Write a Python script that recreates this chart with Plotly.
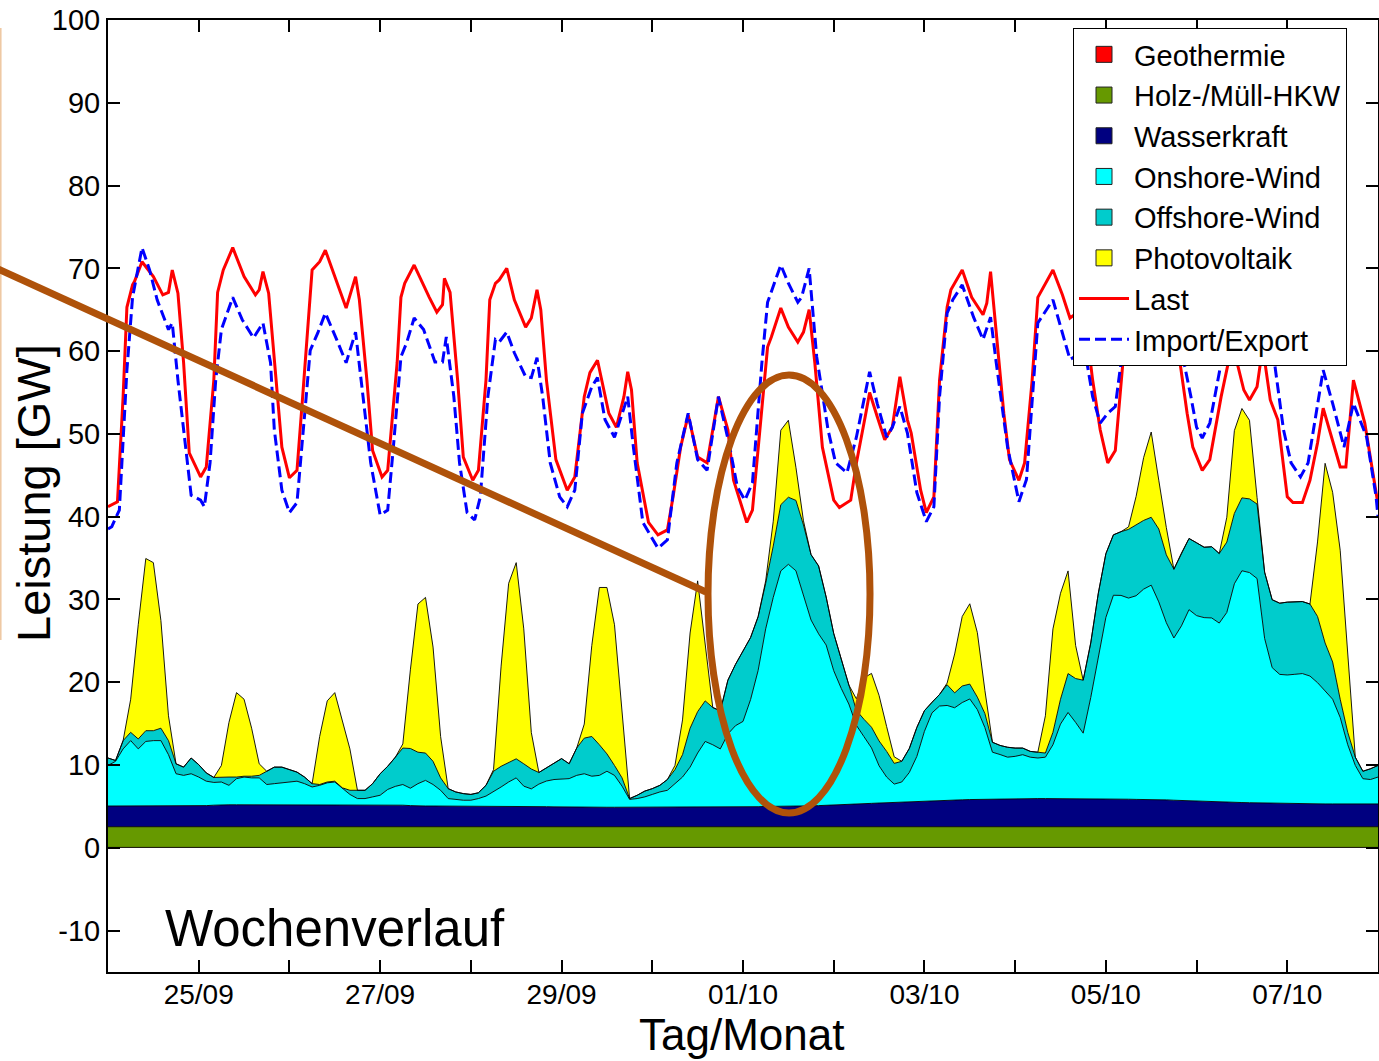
import pandas as pd
import plotly.graph_objects as go

# ---------------- data ----------------
start = pd.Timestamp("2012-09-24 00:00")
n_days = 14

# stacked generation, 2-hourly samples (GW), 24/09 00:00 ... 08/10 00:00
geothermie = [0.05] * 12 * n_days + [0.05]
holz_muell = [2.5] * 12 * n_days + [2.5]

wasserkraft = [
    2.5, 2.5, 2.5, 2.5, 2.5, 2.5, 2.5, 2.5, 2.5, 2.5, 2.5, 2.5,
    2.5, 2.55, 2.6, 2.65, 2.65, 2.65, 2.65, 2.65, 2.65, 2.65, 2.65, 2.65,
    2.65, 2.65, 2.65, 2.65, 2.65, 2.65, 2.65, 2.65, 2.65, 2.65, 2.65, 2.65,
    2.65, 2.65, 2.62, 2.6, 2.55, 2.5, 2.5, 2.5, 2.5, 2.5, 2.5, 2.5,
    2.5, 2.5, 2.5, 2.5, 2.5, 2.5, 2.5, 2.5, 2.47, 2.45, 2.42, 2.4,
    2.38, 2.36, 2.35, 2.35, 2.35, 2.35, 2.35, 2.35, 2.35, 2.35, 2.35, 2.35,
    2.35, 2.35, 2.35, 2.35, 2.35, 2.35, 2.35, 2.35, 2.35, 2.35, 2.35, 2.35,
    2.37, 2.4, 2.42, 2.45, 2.45, 2.45, 2.45, 2.47, 2.5, 2.52, 2.55, 2.6,
    2.65, 2.7, 2.72, 2.75, 2.78, 2.82, 2.86, 2.9, 2.95, 3.0, 3.05, 3.1,
    3.12, 3.15, 3.18, 3.2, 3.22, 3.25, 3.28, 3.3, 3.32, 3.35, 3.37, 3.4,
    3.4, 3.4, 3.4, 3.4, 3.4, 3.4, 3.4, 3.4, 3.4, 3.4, 3.4, 3.4,
    3.38, 3.36, 3.34, 3.32, 3.3, 3.3, 3.28, 3.26, 3.24, 3.2, 3.16, 3.12,
    3.1, 3.06, 3.02, 3.0, 2.98, 2.95, 2.92, 2.9, 2.88, 2.85, 2.82, 2.8,
    2.78, 2.76, 2.75, 2.75, 2.75, 2.75, 2.75, 2.75, 2.75, 2.75, 2.75, 2.75,
    2.75,
]

onshore_wind = [
    4.9, 5.4, 6.9, 7.9, 6.9, 7.8, 7.9, 7.9, 6.2, 3.9, 3.7, 3.9,
    3.5, 2.95, 2.75, 2.75, 2.35, 3.15, 3.35, 3.25, 3.25, 2.45, 2.55, 2.65,
    2.75, 2.85, 2.55, 2.15, 2.35, 2.65, 2.75, 1.95, 1.25, 0.75, 0.75, 0.95,
    1.15, 1.85, 2.25, 2.5, 2.1, 2.7, 3.1, 2.6, 1.9, 0.9, 0.8, 0.7,
    0.7, 0.9, 1.2, 1.7, 2.3, 2.9, 3.4, 2.4, 2.1, 2.7, 3.1, 3.3,
    3.35, 3.45, 3.85, 4.05, 3.75, 3.85, 4.35, 3.85, 2.55, 0.95, 1.05, 1.25,
    1.55, 1.85, 2.05, 2.85, 3.65, 4.85, 6.55, 7.95, 7.55, 7.05, 8.85, 9.85,
    10.35, 12.95, 16.45, 21.45, 25.25, 28.45, 29.25, 28.45, 25.45, 22.45, 20.75, 19.35,
    16.2, 14.0, 12.1, 9.5, 8.1, 6.7, 4.5, 3.1, 2.2, 2.4, 3.5, 5.4,
    8.4, 10.6, 11.4, 11.45, 11.15, 11.75, 12.15, 10.85, 8.65, 5.65, 5.35, 5.0,
    5.1, 5.3, 5.0, 4.9, 5.0, 6.5, 9.0, 10.4, 9.2, 7.9, 12.2, 17.2,
    21.9, 24.6, 24.6, 24.3, 24.6, 25.4, 25.9, 23.9, 21.4, 19.6, 21.1, 23.1,
    22.4, 22.2, 22.2, 21.6, 22.9, 26.4, 28.0, 27.8, 27.1, 19.9, 16.4, 15.6,
    15.55, 15.65, 15.75, 15.45, 14.65, 13.65, 12.65, 10.45, 7.15, 4.65, 3.05, 2.95,
    3.25,
]

offshore_wind = [
    0.9, 0.1, 1.0, 1.0, 1.2, 1.3, 1.2, 1.5, 1.7, 1.2, 1.0, 1.9,
    1.5, 1.0, 0.6, 0.6, 1.0, 0.2, 0.1, 0.2, 0.3, 1.6, 2.0, 1.9,
    1.5, 1.1, 0.8, 0.4, 0.1, 0.1, 0.1, 0.1, 0.5, 1.0, 1.0, 1.6,
    2.6, 2.8, 3.5, 4.4, 4.8, 3.8, 3.3, 2.8, 1.5, 1.2, 0.9, 0.8,
    0.7, 0.7, 1.3, 2.5, 2.5, 2.4, 2.3, 2.7, 2.4, 1.4, 1.6, 2.0,
    2.5, 1.8, 3.3, 4.3, 4.8, 3.7, 2.1, 1.2, 1.0, 0.1, 0.4, 0.7,
    0.7, 0.8, 1.3, 1.7, 2.7, 4.7, 5.0, 4.9, 4.5, 4.6, 6.5, 7.4,
    8.6, 7.5, 6.5, 5.5, 6.2, 8.0, 8.1, 8.5, 8.5, 7.9, 8.2, 5.8,
    4.5, 3.5, 2.3, 1.8, 2.1, 2.5, 3.0, 3.1, 2.5, 2.5, 2.9, 3.5,
    2.5, 1.3, 1.4, 2.5, 1.8, 2.0, 1.8, 1.5, 1.7, 1.2, 1.1, 1.2,
    1.0, 0.8, 0.7, 0.7, 0.5, 1.5, 3.0, 4.7, 5.3, 6.4, 6.6, 7.6,
    7.7, 7.3, 7.7, 8.3, 8.6, 8.3, 8.2, 8.8, 8.2, 8.3, 8.8, 8.6,
    8.8, 8.5, 8.6, 8.4, 8.5, 8.5, 8.8, 8.9, 9.0, 8.0, 8.2, 8.6,
    8.8, 8.8, 8.7, 8.7, 8.0, 5.8, 4.5, 2.2, 1.5, 1.0, 0.9, 1.3,
    1.4,
]

photovoltaik = [
    0, 0, 0, 4.0, 13.8, 20.8, 20.3, 13.0, 3.0, 0, 0, 0,
    0, 0, 0, 1.4, 6.6, 10.2, 9.3, 5.8, 1.4, 0, 0, 0,
    0, 0, 0, 0, 5.8, 9.8, 10.7, 8.2, 5.0, 0, 0, 0,
    0, 0, 0, 0.5, 9.5, 17.9, 18.8, 13.8, 5.0, 0, 0, 0,
    0, 0, 0, 0.2, 12.1, 21.6, 23.7, 16.3, 4.4, 0, 0, 0,
    0, 0, 0, 1.7, 11.0, 19.0, 20.1, 17.0, 8.0, 0, 0, 0,
    0, 0, 0, 0.5, 4.2, 11.5, 15.8, 7.2, 0, 0, 0, 0,
    0, 0, 0, 0.3, 3.0, 9.0, 9.3, 4.0, 0.5, 0, 0, 0,
    0, 0, 0, 1.4, 5.0, 6.5, 5.5, 3.0, 0.8, 0, 0, 0,
    0, 0, 0, 0.2, 4.7, 8.4, 9.7, 7.8, 2.8, 0, 0, 0,
    0, 0, 0, 0, 4.5, 12.5, 12.8, 12.4, 4.0, 0, 0, 0,
    0, 0, 0, 0.3, 3.4, 7.6, 10.3, 5.9, 3.3, 0, 0, 0,
    0, 0, 0, 0, 3.0, 10.0, 10.8, 9.5, 0.8, 0, 0, 0,
    0, 0, 0, 0, 9.0, 21.7, 20.5, 18.0, 10.0, 0, 0, 0,
    0,
]

# load and import/export (hours since 24/09 00:00, GW)
last_hours = [0, 2.5, 4, 5, 6.5, 7, 9, 12, 14.5, 16, 17, 18.5, 20, 21.5, 24.5, 26, 28, 29, 30.5, 33,
              36, 39, 40, 41, 42.5, 44.5, 46, 48, 50, 51.5, 53.5, 54, 56, 57.5, 61.5, 63, 65.5, 66.5,
              68.5, 70, 72.5, 74, 76.5, 77.5, 78.5, 81, 85, 87, 88.5, 89, 90.5, 92.5, 94, 96.5, 98,
              100, 101, 102.5, 103.5, 105.5, 107.5, 110.5, 112, 113.5, 114.5, 116, 118.5, 121.5, 123.5,
              126, 127.5, 129.5, 132.5, 134.5, 136.5, 137.5, 138.5, 140, 143, 145.5, 148, 149.5, 151.5,
              153.5, 156, 158.5, 161.5, 164, 165.5, 169, 170.5, 172.5, 174.5, 175.5, 178, 180, 182.5,
              184, 185.5, 187, 189, 192, 193.5, 196.5, 198, 200.5, 201.5, 203.5, 205.5, 207.5, 209.5,
              211.5, 212.5, 215, 216.5, 218.5, 220, 222, 223, 226, 228.5, 231.5, 232.5, 233.5, 235,
              237, 238.5, 241, 242.5, 244.5, 246, 250, 252.5, 254.5, 256, 257, 258.5, 260.5, 262.5,
              264.5, 266.5, 268.5, 269.5, 271, 273.5, 277, 279.5, 281, 282.5, 283.5, 285.5, 287, 289.5,
              291.5, 294.5, 296.5, 297.5, 298.5, 300.5, 302, 304, 305.5, 307.5, 309.5, 312, 313.5, 316,
              318, 320, 321.5, 324, 326, 327.5, 329.5, 332.5, 335.5, 336]
last_values = [41.2, 41.8, 54.5, 65.3, 68.0, 68.4, 70.8, 69.0, 66.8, 67.1, 69.8, 67.0, 58.6, 47.7, 44.8,
               46.0, 56.5, 67.1, 69.8, 72.5, 69.0, 66.8, 67.4, 69.6, 67.0, 56.5, 48.4, 44.7, 45.6, 54.5,
               67.6, 69.8, 70.8, 72.2, 67.1, 65.2, 69.0, 66.2, 56.5, 48.0, 44.8, 45.6, 58.6, 66.5, 68.2,
               70.4, 66.5, 64.7, 65.6, 68.8, 67.1, 56.5, 47.2, 44.4, 45.6, 56.5, 66.2, 68.2, 68.6, 70.0,
               66.2, 62.9, 64.0, 67.4, 65.0, 56.5, 46.9, 43.2, 44.8, 54.5, 57.4, 58.9, 52.5, 50.8, 54.5,
               57.5, 55.3, 46.5, 39.3, 37.8, 38.4, 42.4, 48.4, 52.3, 47.2, 46.5, 54.5, 50.5, 44.4, 39.3,
               40.8, 50.5, 60.5, 61.7, 65.2, 62.9, 61.1, 62.3, 65.0, 58.6, 48.4, 42.0, 41.1, 42.0, 46.5,
               52.5, 55.0, 52.1, 49.3, 50.8, 56.9, 51.7, 50.1, 43.2, 40.5, 42.4, 56.5, 65.3, 67.4, 69.8,
               66.5, 64.4, 65.8, 69.6, 62.6, 52.5, 46.9, 44.4, 46.5, 56.5, 66.5, 69.8, 66.8, 64.0, 64.5,
               68.0, 64.0, 56.5, 50.5, 46.5, 48.0, 58.6, 65.0, 68.0, 70.0, 67.0, 66.0, 69.0, 65.0, 59.0,
               52.5, 48.4, 45.6, 46.9, 54.5, 59.0, 61.0, 59.0, 55.3, 54.1, 55.7, 60.5, 54.1, 51.7, 42.4,
               41.7, 41.7, 44.4, 48.9, 53.1, 49.3, 46.0, 46.0, 56.5, 51.3, 42.4, 41.5]

import_hours = [0, 1, 3, 5, 6.5, 9, 11, 13, 16, 17, 18.5, 20.5, 22, 24.5, 25.5, 27, 28.5, 30, 33, 35.5,
                38.5, 41, 43, 44, 46, 48, 50, 51.5, 53.5, 55.5, 57.5, 60.5, 63, 65.5, 67.5, 69.5, 72, 74,
                75.5, 77.5, 79, 81, 83.5, 86.5, 88.5, 89.5, 91.5, 93, 95, 97, 98.5, 100.5, 102.5, 103.5,
                105.5, 107.5, 110.5, 112, 113.5, 115, 117, 119.5, 121.5, 123.5, 125.5, 128, 129.5, 131.5,
                134, 137.5, 139, 141.5, 145.5, 148, 150.5, 153.5, 156, 158.5, 161.5, 164.5, 166.5, 168.5,
                170.5, 173, 174.5, 178, 180, 182.5, 183.5, 185.5, 187.5, 190.5, 192.5, 195.5, 198, 200.5,
                201.5, 203.5, 206, 207.5, 209.5, 211.5, 214, 216.5, 218.5, 220, 222, 223.5, 226, 229,
                231.5, 233.5, 235, 238, 241, 243, 245, 246, 250, 252.5, 254.5, 256.5, 259, 260.5, 262.5,
                264.5, 266.5, 268, 270, 273, 277, 281, 283, 284.5, 286.5, 288, 289.5, 291.5, 294.5, 296.5,
                299.5, 303.5, 305.5, 307, 308.5, 311, 313, 315.5, 317.5, 320, 321.5, 324, 327, 329.5, 333,
                335.5, 336]
import_values = [38.5, 38.8, 40.8, 57.7, 66.5, 72.5, 69.8, 66.2, 62.6, 63.4, 56.5, 48.4, 42.6, 42.0, 41.2,
                 46.5, 56.5, 62.6, 66.5, 63.8, 61.6, 63.4, 58.6, 50.5, 43.2, 40.5, 41.7, 49.6, 60.1, 62.2,
                 64.6, 61.4, 58.6, 62.3, 54.5, 46.5, 40.2, 40.8, 48.4, 59.3, 61.0, 64.0, 62.6, 58.7, 58.7,
                 61.7, 54.5, 46.5, 40.5, 39.6, 42.4, 54.5, 61.4, 61.1, 62.3, 59.8, 56.9, 56.8, 59.2, 54.5,
                 46.5, 42.4, 41.2, 43.2, 52.5, 55.7, 56.8, 51.7, 49.6, 54.5, 48.4, 39.3, 36.2, 37.2, 46.5,
                 52.5, 46.9, 45.6, 54.5, 48.4, 43.6, 42.0, 44.1, 58.6, 65.9, 70.4, 68.2, 65.9, 66.5, 70.0,
                 59.3, 50.5, 46.5, 45.3, 49.6, 55.3, 57.5, 53.7, 49.6, 50.8, 53.3, 50.1, 42.9, 39.4, 41.2,
                 54.5, 64.6, 66.2, 68.0, 64.1, 61.4, 64.1, 58.6, 48.4, 41.8, 44.5, 56.5, 63.4, 66.2, 62.2,
                 59.0, 59.5, 58.6, 54.5, 51.3, 52.5, 53.3, 58.6, 62.0, 64.0, 63.0, 64.0, 61.0, 59.0, 54.5,
                 50.8, 49.5, 51.3, 58.6, 63.0, 65.0, 63.0, 64.0, 61.0, 59.0, 50.5, 46.5, 44.8, 46.5, 53.7,
                 57.7, 53.7, 48.4, 53.7, 49.6, 42.4, 40.0]

tick_labels = ["", "25/09", "", "27/09", "", "29/09", "", "01/10", "", "03/10", "", "05/10", "", "07/10", ""]
y_ticks = [-10, 0, 10, 20, 30, 40, 50, 60, 70, 80, 90, 100]

# ---------------- figure ----------------
grid = pd.date_range(start, periods=len(photovoltaik), freq="2h")
last_t = start + pd.to_timedelta(last_hours, unit="h")
imp_t = start + pd.to_timedelta(import_hours, unit="h")

FONT = "Liberation Sans, Arial, sans-serif"
fig = go.Figure()

stack = [
    ("Geothermie", geothermie, "#FF0000"),
    ("Holz-/Müll-HKW", holz_muell, "#669900"),
    ("Wasserkraft", wasserkraft, "#000080"),
    ("Onshore-Wind", onshore_wind, "#00FFFF"),
    ("Offshore-Wind", offshore_wind, "#00CCCC"),
    ("Photovoltaik", photovoltaik, "#FFFF00"),
]
for name, vals, col in stack:
    fig.add_trace(go.Scatter(
        x=grid, y=vals, name=name, mode="lines", stackgroup="gen",
        line=dict(color="black", width=0.9), fillcolor=col,
        legendgroup=name, showlegend=False,
    ))
# legend entries with box symbols for the stacked areas
for name, vals, col in stack:
    fig.add_trace(go.Scatter(
        x=[None], y=[None], name=name, mode="markers", legendgroup=name,
        marker=dict(symbol="square", size=30, color=col, line=dict(color="#222222", width=1)),
    ))

fig.add_trace(go.Scatter(x=last_t, y=last_values, name="Last", mode="lines",
                         line=dict(color="#FF0000", width=3)))
fig.add_trace(go.Scatter(x=imp_t, y=import_values, name="Import/Export", mode="lines",
                         line=dict(color="#0000FF", width=3, dash="11px,5px")))

tick_dates = [start + pd.Timedelta(days=i) for i in range(n_days + 1)]


def px_x(p):
    return (p - 108) / 1270.0


def px_y(p):
    return (972 - p) / 952.0


brown = "#AF520A"
shapes = [
    dict(type="line", xref="paper", yref="paper", x0=px_x(0.8), y0=px_y(28), x1=px_x(0.8), y1=px_y(640),
         line=dict(color="#EEC7A0", width=1.5)),
    dict(type="line", xref="paper", yref="paper", x0=px_x(-2), y0=px_y(269), x1=px_x(706), y1=px_y(592),
         line=dict(color=brown, width=7)),
    dict(type="circle", xref="paper", yref="paper", x0=px_x(708), x1=px_x(870), y0=px_y(813), y1=px_y(375),
         line=dict(color=brown, width=7)),
]

fig.update_layout(
    width=1379, height=1061,
    margin=dict(l=108, r=1, t=20, b=89, autoexpand=False),
    paper_bgcolor="white", plot_bgcolor="white",
    font=dict(family=FONT, color="black", size=29),
    showlegend=True,
    legend=dict(
        x=px_x(1073), y=px_y(28), xanchor="left", yanchor="top",
        bgcolor="white", bordercolor="black", borderwidth=1,
        font=dict(family=FONT, size=29, color="black"),
        traceorder="normal", itemwidth=50, tracegroupgap=0,
    ),
    shapes=shapes,
    annotations=[
        dict(text="Wochenverlauf", xref="paper", yref="paper", x=px_x(335), y=px_y(928),
             xanchor="center", yanchor="middle", showarrow=False,
             font=dict(family=FONT, size=51, color="black")),
        dict(text="Tag/Monat", xref="paper", yref="paper", x=px_x(741), y=px_y(1061),
             xanchor="center", yanchor="bottom", showarrow=False,
             font=dict(family=FONT, size=44, color="black")),
        dict(text="Leistung [GW]", xref="paper", yref="paper", x=px_x(33), y=px_y(493),
             xanchor="center", yanchor="middle", showarrow=False, textangle=-90,
             font=dict(family=FONT, size=47, color="black")),
    ],
)

fig.update_xaxes(
    range=[start, start + pd.Timedelta(days=n_days)],
    tickvals=tick_dates, ticktext=tick_labels,
    ticks="inside", ticklen=12, tickwidth=1.5, tickcolor="black",
    showline=True, linewidth=2, linecolor="black", mirror="allticks",
    showgrid=False, zeroline=False, automargin=False,
    tickfont=dict(family=FONT, size=28), ticklabelstandoff=-4,
)
fig.update_yaxes(
    range=[-15, 100],
    tickvals=y_ticks, ticktext=[str(v) for v in y_ticks],
    ticks="inside", ticklen=12, tickwidth=1.5, tickcolor="black",
    showline=True, linewidth=2, linecolor="black", mirror="allticks",
    showgrid=False, zeroline=False, automargin=False,
    tickfont=dict(family=FONT, size=29),
)

fig.write_html(
    "out.html",
    config={"responsive": False, "displayModeBar": False},
    post_script="document.body.style.margin='0';document.body.style.overflow='hidden';",
)
